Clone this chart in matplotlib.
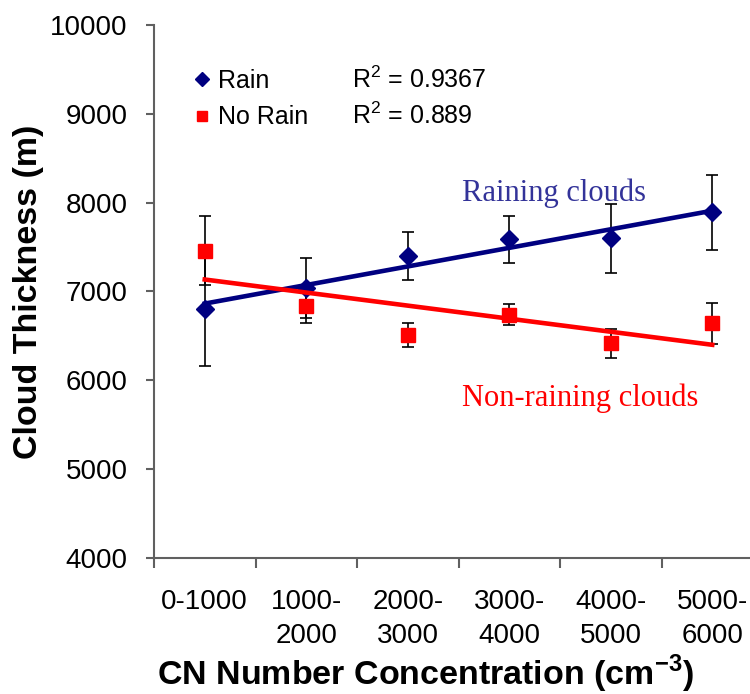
import numpy as np
import matplotlib.pyplot as plt

plt.rcParams['font.family'] = ['Liberation Sans', 'DejaVu Sans']
plt.rcParams['mathtext.fontset'] = 'custom'
plt.rcParams['mathtext.rm'] = 'Liberation Sans'
plt.rcParams['mathtext.bf'] = 'Liberation Sans:bold'

categories = ["0-1000", "1000-\n2000", "2000-\n3000", "3000-\n4000", "4000-\n5000", "5000-\n6000"]
rain = [6800, 7040, 7400, 7590, 7600, 7890]
rain_err = [640, 340, 270, 265, 390, 425]
norain = [7460, 6840, 6510, 6740, 6415, 6640]
norain_err = [390, 190, 130, 120, 165, 235]
r2_rain = "0.9367"
r2_norain = "0.889"

x = np.arange(len(categories))

fig = plt.figure(figsize=(7.5, 6.94), dpi=100)
ax = fig.add_axes([154 / 750, 1 - 558 / 694, 609 / 750, 533 / 694])

ax.errorbar(x, rain, yerr=rain_err, fmt="none", ecolor="black", elinewidth=1.2,
            capsize=4.5, capthick=1.2, zorder=2)
ax.errorbar(x, norain, yerr=norain_err, fmt="none", ecolor="black", elinewidth=1.2,
            capsize=4.5, capthick=1.2, zorder=2)
h1, = ax.plot(x, rain, "D", color="#000080", markersize=9.5, linestyle="none", zorder=3)
h2, = ax.plot(x, norain, "s", color="#ff0000", markersize=10, linestyle="none", zorder=3)

# linear trendlines
p = np.polyfit(x, rain, 1)
ax.plot(x[[0, -1]], np.polyval(p, x[[0, -1]]), color="#000080", lw=3.3, zorder=4)
p = np.polyfit(x, norain, 1)
ax.plot(x[[0, -1]], np.polyval(p, x[[0, -1]]), color="#ff0000", lw=3.3, zorder=4)

ax.set_xlim(-0.5, 5.5)
ax.set_ylim(4000, 10000)
ax.set_yticks(np.arange(4000, 10001, 1000))
ax.set_xticks(x)
ax.set_xticklabels(categories, fontsize=20, linespacing=1.4)
ax.set_xticks(np.arange(-0.5, 5.6, 1), minor=True)
ax.tick_params(axis="x", which="major", length=0, pad=22)
ax.tick_params(axis="x", which="minor", length=7, width=1.5, color="#606060")
ax.tick_params(axis="y", length=6, width=1.5, color="#606060", labelsize=20, pad=13)
for s in ["top", "right"]:
    ax.spines[s].set_visible(False)
for s in ["left", "bottom"]:
    ax.spines[s].set_color("#606060")
    ax.spines[s].set_linewidth(1.5)

ax.set_ylabel("Cloud Thickness (m)", fontsize=24.5, fontweight="bold")
ax.yaxis.set_label_coords(-0.18, 0.5)
fig.text(0.567, 1 - 674 / 694, "CN Number Concentration (cm$^{\\mathbf{-3}}$)",
         fontsize=24.5, fontweight="bold", ha="center", va="center")

ax.legend([h1, h2], ["Rain", "No Rain"], loc="upper left", bbox_to_anchor=(0.025, 0.96),
          frameon=False, fontsize=18, handletextpad=0.25, labelspacing=0.5,
          handlelength=0.8, markerscale=0.75)
ax.text(0.325, 0.898, "R$^2$ = " + r2_rain, transform=ax.transAxes, fontsize=18, va="center")
ax.text(0.325, 0.83, "R$^2$ = " + r2_norain, transform=ax.transAxes, fontsize=18, va="center")

ax.text(2.53, 8110, "Raining clouds", color="#333399", fontsize=22,
        family="Liberation Serif", va="center")
ax.text(2.53, 5800, "Non-raining clouds", color="#ff0000", fontsize=22,
        family="Liberation Serif", va="center")

fig.savefig("out.png", dpi=100)
